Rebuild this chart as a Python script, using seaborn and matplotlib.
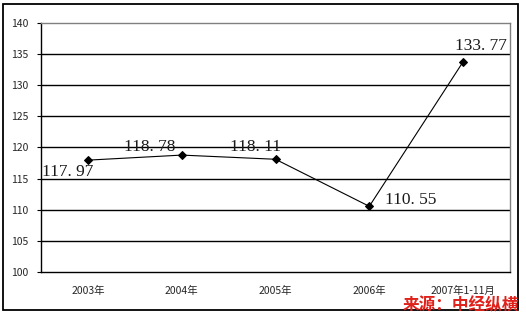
import matplotlib
matplotlib.use("Agg")
import matplotlib.pyplot as plt
import seaborn as sns
import pandas as pd
from matplotlib.patches import Rectangle

categories = ["2003年", "2004年", "2005年", "2006年", "2007年1-11月"]
values = [117.97, 118.78, 118.11, 110.55, 133.77]
label_texts = ["117. 97", "118. 78", "118. 11", "110. 55", "133. 77"]
y_ticks = [100, 105, 110, 115, 120, 125, 130, 135, 140]
source_text = "来源：中经纵横"

sns.set_theme(style="white")
plt.rcParams['font.family'] = ['Noto Sans CJK SC', 'DejaVu Sans']

fig = plt.figure(figsize=(5.26, 3.18), dpi=100)
ax = fig.add_axes([41/526, 1-272/318, (510-41)/526, (272-23)/318])

df = pd.DataFrame({"x": list(range(len(categories))), "y": values})
sns.lineplot(data=df, x="x", y="y", ax=ax, color="black", linewidth=0.8,
             marker="D", markersize=4.5, markeredgecolor="black", zorder=3)

ax.set_xlim(-0.5, len(categories) - 0.5)
ax.set_ylim(100, 140)
ax.set_yticks(y_ticks)
ax.set_yticklabels([str(v) for v in y_ticks], fontsize=7.5)
for v in y_ticks[1:-1]:
    ax.axhline(v, color="black", linewidth=1.0, zorder=1)

ax.set_xticks(range(len(categories)))
ax.set_xticklabels(categories, fontsize=7.5)
ax.set_xticks([i + 0.5 for i in range(len(categories))], minor=True)
ax.tick_params(axis="x", which="major", length=0, pad=10)
ax.tick_params(axis="x", which="minor", length=3, direction="in", color="black", width=0.8)
ax.tick_params(axis="y", which="major", length=3, direction="out", color="black", width=0.8, pad=6, left=True)
ax.set_xlabel("")
ax.set_ylabel("")

for s in ["left", "bottom"]:
    ax.spines[s].set_color("black")
    ax.spines[s].set_linewidth(1.0)
for s in ["top", "right"]:
    ax.spines[s].set_color("#808080")
    ax.spines[s].set_linewidth(1.0)

# data labels
offsets = [(-0.49, -1.9), (-0.61, 1.3), (-0.49, 1.97), (0.17, 1.0), (-0.085, 2.5)]
for i, (v, t) in enumerate(zip(values, label_texts)):
    dx, dy = offsets[i]
    ax.text(i + dx, v + dy, t, fontsize=12.5, ha="left", va="center",
            family=["Liberation Serif", "DejaVu Serif"], color="#1a1a1a")

# outer frame
fig.patches.append(Rectangle((3/526, 1-310/318), 515/526, 306/318,
                             transform=fig.transFigure, fill=False,
                             edgecolor="black", linewidth=1.3))

fig.text(519/526, 1-305/318, source_text, ha="right", va="center",
         fontsize=12, fontweight="bold", color="#e0201a", style="italic",
         family=["Noto Sans CJK SC", "DejaVu Sans"])

fig.savefig("out.png", dpi=100)
